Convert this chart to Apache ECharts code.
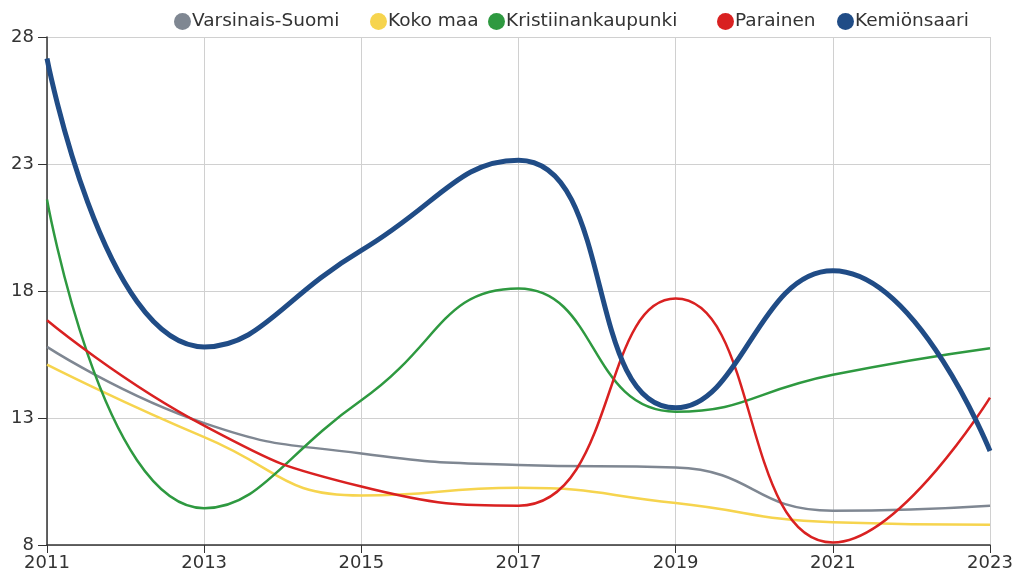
<!DOCTYPE html>
<html lang="fi">
<head>
    <meta charset="UTF-8">
    <title>Kemiönsaari</title>
    <script src="https://cdn.jsdelivr.net/npm/echarts@6/dist/echarts.min.js"></script>
    <style>
        html, body { margin: 0; padding: 0; background: #fff; }
    </style>
</head>
<body>
<div id="main" style="width: 1019px;height:574px;"></div>
<script type="text/javascript">
    // vuodet (x-akseli)
    var years = ['2011', '2013', '2015', '2017', '2019', '2021', '2023'];
    // sarjat
    var names = ['Varsinais-Suomi', 'Koko maa', 'Kristiinankaupunki', 'Parainen', 'Kemiönsaari'];
    var varsinaisSuomi = [15.8, 12.8, 11.6, 11.15, 11.05, 9.35, 9.55];
    var kokoMaa = [15.1, 12.25, 9.95, 10.25, 9.65, 8.9, 8.8];
    var kristiinankaupunki = [21.6, 9.45, 13.7, 18.1, 13.25, 14.7, 15.75];
    var parainen = [16.85, 12.7, 10.3, 9.55, 17.7, 8.1, 13.8];
    var kemionsaari = [27.15, 15.8, 19.6, 23.15, 13.4, 18.8, 11.7];

    var FONT = '"DejaVu Sans", Verdana, sans-serif';
    var myChart = echarts.init(document.getElementById('main'));

    function line(name, data, color, width) {
        return {
            name: name,
            type: 'line',
            data: data,
            smooth: true,
            symbol: 'none',
            color: color,
            lineStyle: {color: color, width: width}
        };
    }

    // legendat erikseen, jotta välit vastaavat alkuperäistä
    var legendLeft = [174, 370, 488, 717, 837];
    var legends = names.map(function (n, i) {
        return {
            data: [n],
            left: legendLeft[i],
            top: 12,
            padding: 0,
            itemWidth: 17,
            itemHeight: 17,
            icon: 'circle',
            textStyle: {fontSize: 18.5, color: '#333', fontFamily: FONT, padding: [0, 0, 0, -4]}
        };
    });

    var option = {
        animation: false,
        textStyle: {fontFamily: FONT},
        legend: legends,
        grid: {left: 47, right: 29, top: 37, bottom: 29, containLabel: false},
        xAxis: {
            type: 'category',
            boundaryGap: false,
            data: years,
            axisLine: {lineStyle: {color: '#333', width: 1.5}},
            axisTick: {show: true, length: 8, lineStyle: {color: '#333'}},
            axisLabel: {fontSize: 18, color: '#333', margin: 9, fontFamily: FONT},
            splitLine: {show: true, lineStyle: {color: '#d0d0d0'}}
        },
        yAxis: {
            type: 'value',
            min: 8,
            max: 28,
            interval: 5,
            axisLine: {show: true, lineStyle: {color: '#333', width: 1.5}},
            axisTick: {show: true, length: 9, lineStyle: {color: '#333'}},
            axisLabel: {fontSize: 18, color: '#333', margin: 13, fontFamily: FONT},
            splitLine: {show: true, lineStyle: {color: '#d0d0d0'}}
        },
        series: [
            line(names[0], varsinaisSuomi, '#7f8792', 2.5),
            line(names[1], kokoMaa, '#f6d44e', 2.5),
            line(names[2], kristiinankaupunki, '#2e9940', 2.5),
            line(names[3], parainen, '#d92121', 2.5),
            line(names[4], kemionsaari, '#204c86', 5)
        ]
    };
    myChart.setOption(option);
</script>
</body>
</html>
